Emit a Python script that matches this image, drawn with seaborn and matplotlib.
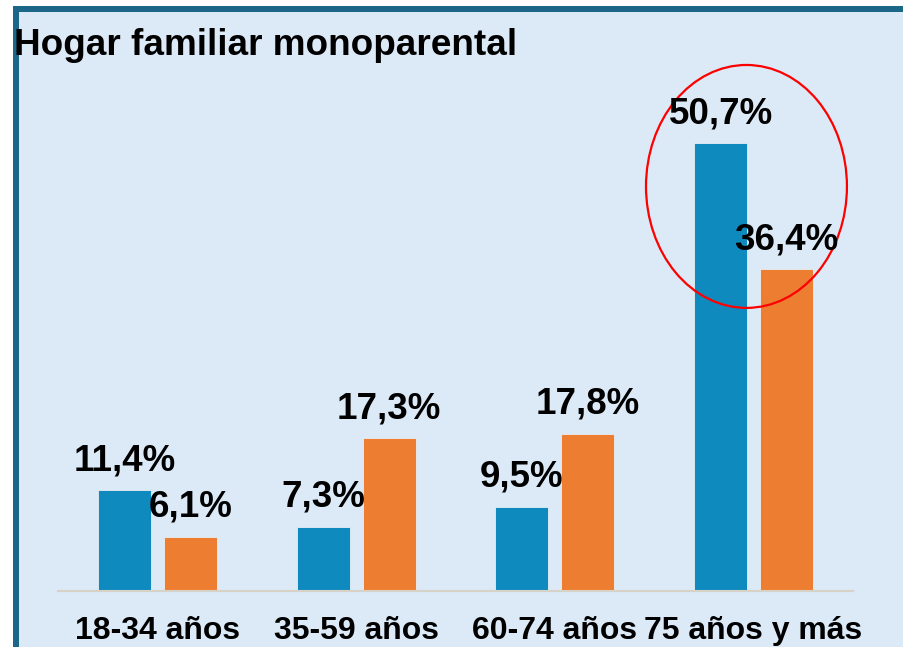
import pandas as pd
import seaborn as sns
import matplotlib.pyplot as plt
from matplotlib.patches import Rectangle, Ellipse

# Data
age_groups = ['18-34 años', '35-59 años', '60-74 años', '75 años y más']
serie_1 = [11.4, 7.3, 9.5, 50.7]
serie_2 = [6.1, 17.3, 17.8, 36.4]
series_names = ['Serie 1', 'Serie 2']
palette = ['#0E8ABE', '#ED7D31']

df = pd.DataFrame({
    'Grupo': age_groups * 2,
    'Serie': [series_names[0]] * 4 + [series_names[1]] * 4,
    'Valor': serie_1 + serie_2,
})

sns.set_theme(style='white')
plt.rcParams['font.family'] = ['Liberation Sans', 'DejaVu Sans']

W, H = 904, 647
fig = plt.figure(figsize=(W / 100, H / 100), dpi=100, facecolor='white')

# Panel background with dark border on top and left (drawn behind the axes)
fig.patches.append(Rectangle((13 / W, 0), 1, 1 - 6 / H, transform=fig.transFigure,
                             facecolor='#1C6688', edgecolor='none', zorder=-2))
fig.patches.append(Rectangle((19 / W, 0), 1, 1 - 12 / H, transform=fig.transFigure,
                             facecolor='#DCE9F6', edgecolor='none', zorder=-1))

ax = fig.add_axes([58 / W, 56 / H, 795 / W, 530 / H])
ax.set_facecolor('none')

sns.barplot(data=df, x='Grupo', y='Valor', hue='Serie', order=age_groups,
            hue_order=series_names, palette=palette, saturation=1,
            width=0.664, gap=0.2, edgecolor='#E8EEF4', linewidth=0.6,
            legend=False, ax=ax)

# Value labels above bars
for container in ax.containers:
    for bar, v in zip(container, container.datavalues):
        ax.annotate(f'{v:.1f}%'.replace('.', ','),
                    (bar.get_x() + bar.get_width() / 2, bar.get_height()),
                    xytext=(0, 14.5), textcoords='offset points',
                    ha='center', va='baseline', fontsize=26.5, fontweight='bold',
                    color='black')

# Highlight circle around the 75+ group
ax.add_patch(Ellipse((2.964, 45.8), 1.011, 27.5, fill=False,
                     edgecolor='#FF0000', linewidth=1.6, clip_on=False))

ax.set_xlim(-0.5, 3.5)
ax.set_ylim(0, 60)
ax.set_xlabel('')
ax.set_ylabel('')
ax.set_yticks([])
ax.tick_params(axis='x', length=0, pad=18)
for lbl in ax.get_xticklabels():
    lbl.set_fontsize(23)
    lbl.set_fontweight('bold')
    lbl.set_color('black')

for side in ['top', 'right', 'left']:
    ax.spines[side].set_visible(False)
ax.spines['bottom'].set_color('#D6D2C8')
ax.spines['bottom'].set_linewidth(1.5)

fig.text(14 / W, 1 - 55 / H, 'Hogar familiar monoparental', fontsize=26.6,
         fontweight='bold', color='black', ha='left', va='baseline')

fig.savefig('out.png', dpi=100, facecolor='white')
